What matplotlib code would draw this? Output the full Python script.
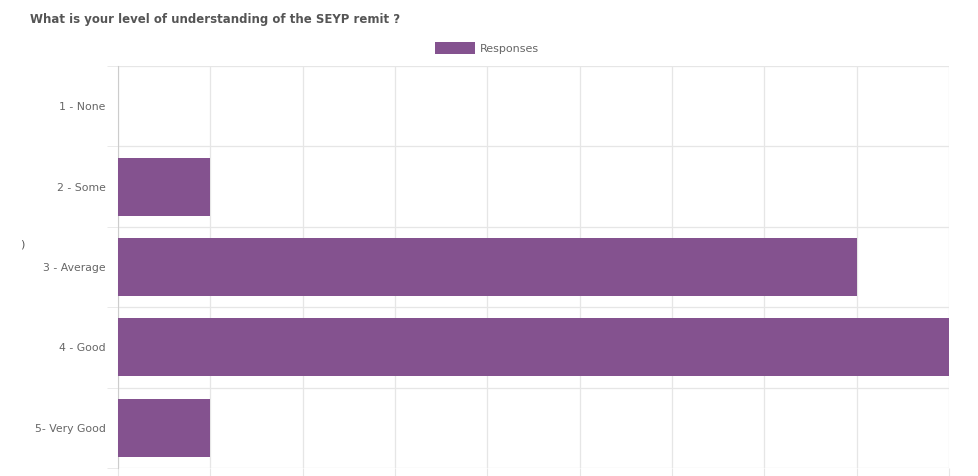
import matplotlib.pyplot as plt

title = 'What is your level of understanding of the SEYP remit ?'
categories = ['1 - None', '2 - Some', '3 - Average', '4 - Good', '5- Very Good']
responses = [0, 1, 8, 9, 1]
series_name = 'Responses'

bar_color = '#84528f'
grid_color = '#e6e6e6'
text_color = '#666666'

fig = plt.figure(figsize=(9.79, 4.76), dpi=100)
ax = fig.add_axes([118 / 979, 1 - 468 / 476, (949 - 118) / 979, (468 - 66) / 476])

ypos = list(range(len(categories)))
ax.barh(ypos, responses, height=0.72, color=bar_color, linewidth=0,
        label=series_name, zorder=3)

ax.set_xlim(0, 9)
ax.set_ylim(len(categories) - 0.5, -0.5)
ax.set_xticks(range(0, 10))
ax.set_xticklabels([])
ax.set_yticks([y + 0.5 for y in ypos[:-1]] + [-0.5, len(categories) - 0.5], minor=True)
ax.set_yticks(ypos)
ax.set_yticklabels(categories, color=text_color, fontsize=7.8)
ax.tick_params(axis='y', which='major', length=0, pad=9)
ax.tick_params(axis='y', which='minor', length=8, color=grid_color)
ax.tick_params(axis='x', length=6, color=grid_color, direction='out')
ax.grid(axis='x', color=grid_color, linewidth=0.9, zorder=0)
ax.grid(axis='y', which='minor', color=grid_color, linewidth=0.9, zorder=0)
for side in ['top', 'right', 'bottom']:
    ax.spines[side].set_visible(False)
ax.spines['left'].set_color('#cccccc')

fig.text(30 / 979, 1 - 20 / 476, title, fontsize=8.5, fontweight='bold',
         color='#555555', va='center', ha='left')
fig.text(20 / 979, 1 - 245 / 476, ')', fontsize=8, color='#555555', va='center')

leg = fig.legend(loc='center', bbox_to_anchor=(487 / 979, 1 - 48 / 476), frameon=False,
                 fontsize=8, handlelength=3.6, handleheight=1.4, handletextpad=0.5)
for t in leg.get_texts():
    t.set_color(text_color)

fig.savefig('out.png', dpi=100)
